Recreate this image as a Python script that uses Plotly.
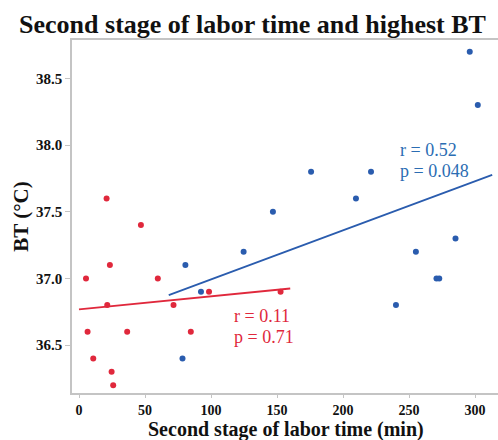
import numpy as np
import plotly.graph_objects as go

# Red group
red_time = [5.3, 6.5, 10.8, 20.9, 21.4, 23.4, 24.7, 25.9, 36.5, 46.9, 59.7, 71.6, 84.7, 98.5, 152.7]
red_bt = [37.0, 36.6, 36.4, 37.6, 36.8, 37.1, 36.3, 36.2, 36.6, 37.4, 37.0, 36.8, 36.6, 36.9, 36.9]
# Blue group
blue_time = [78.4, 80.6, 92.4, 124.7, 146.9, 175.8, 209.8, 221.2, 240.1, 255.2, 270.8, 272.9, 285.2, 296.0, 302.1]
blue_bt = [36.4, 37.1, 36.9, 37.2, 37.5, 37.8, 37.6, 37.8, 36.8, 37.2, 37.0, 37.0, 37.3, 38.7, 38.3]

# fit line extents (min)
red_fit_range = [0, 160]
blue_fit_range = [68, 313]

red_stats = ["r = 0.11", "p = 0.71"]
blue_stats = ["r = 0.52", "p = 0.048"]

x_ticks = [0, 50, 100, 150, 200, 250, 300]
y_ticks = [36.5, 37.0, 37.5, 38.0, 38.5]

RED = "#e0283c"
BLUE = "#2a5cae"
BLUE_TXT = "#2b6db3"
SERIF = "Liberation Serif, Times New Roman, serif"


def fit_line(xs, ys, rng):
    k, b = np.polyfit(xs, ys, 1)
    xr = np.array(rng, dtype=float)
    return xr, k * xr + b


fig = go.Figure()
rx, ry = fit_line(red_time, red_bt, red_fit_range)
bx, by = fit_line(blue_time, blue_bt, blue_fit_range)
fig.add_trace(go.Scatter(x=rx, y=ry, mode="lines", line=dict(color=RED, width=1.8), showlegend=False))
fig.add_trace(go.Scatter(x=bx, y=by, mode="lines", line=dict(color=BLUE, width=1.8), showlegend=False))
fig.add_trace(go.Scatter(x=red_time, y=red_bt, mode="markers",
                         marker=dict(color=RED, size=6, line=dict(width=0)), showlegend=False))
fig.add_trace(go.Scatter(x=blue_time, y=blue_bt, mode="markers",
                         marker=dict(color=BLUE, size=6, line=dict(width=0)), showlegend=False))

ann = []
for t, yy in zip(blue_stats, [0.688, 0.629]):
    ann.append(dict(text=t, xref="paper", yref="paper", x=0.766, y=yy, xanchor="left", yanchor="middle",
                    showarrow=False, font=dict(family=SERIF, size=18, color=BLUE_TXT)))
for t, yy in zip(red_stats, [0.218, 0.159]):
    ann.append(dict(text=t, xref="paper", yref="paper", x=0.376, y=yy, xanchor="left", yanchor="middle",
                    showarrow=False, font=dict(family=SERIF, size=18, color=RED)))
# x-axis title
ann.append(dict(text="<b>Second stage of labor time (min)</b>", xref="paper", yref="paper",
                x=0.503, y=-0.102, xanchor="center", yanchor="middle", showarrow=False,
                font=dict(family=SERIF, size=20, color="#111")))

fig.update_layout(
    width=498, height=440,
    margin=dict(l=72, r=0, t=40, b=47),
    paper_bgcolor="white", plot_bgcolor="white",
    title=dict(text="<b>Second stage of labor time and highest BT</b>", x=0.507, xanchor="center",
               y=0.945, yanchor="middle", font=dict(family=SERIF, size=26, color="#111")),
    annotations=ann,
    xaxis=dict(range=[-5.3, 317.4], tickvals=x_ticks, ticktext=[f"<b>{v}</b>" for v in x_ticks],
               showgrid=False, zeroline=False, showline=True, linecolor="#c4c4c4", linewidth=1.5,
               mirror=True, ticks="outside", ticklen=3, tickcolor="#c4c4c4",
               tickfont=dict(family=SERIF, size=14, color="#111")),
    yaxis=dict(range=[36.141, 38.788], tickvals=y_ticks, ticktext=[f"<b>{v:.1f}</b>" for v in y_ticks],
               showgrid=False, zeroline=False, showline=True, linecolor="#c4c4c4", linewidth=1.5,
               ticks="outside", ticklen=5, tickcolor="#c4c4c4",
               tickfont=dict(family=SERIF, size=15, color="#111"),
               title=dict(text="<b>BT (°C)</b>", standoff=2,
                          font=dict(family=SERIF, size=21, color="#111"))),
)

fig.write_html("out.html")
